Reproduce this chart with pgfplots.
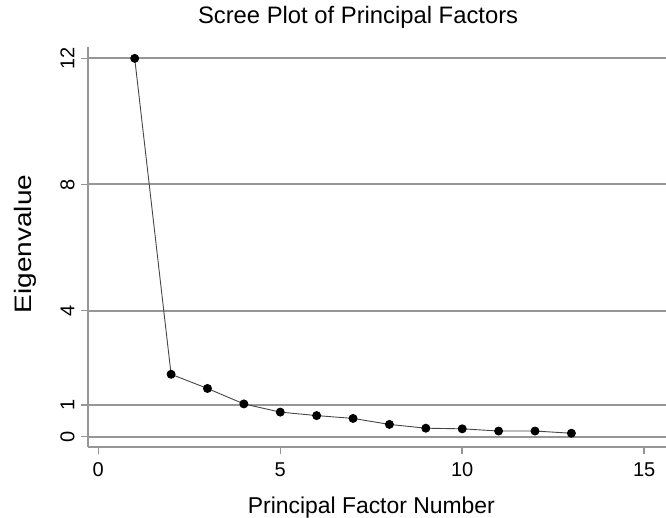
\documentclass[border=0pt]{standalone}
\usepackage{fontspec}
\setmainfont{Liberation Sans}
\usepackage{graphicx}
\usepackage{pgfplots}
\pgfplotsset{compat=1.18}
\definecolor{gridgray}{RGB}{150,150,150}
\definecolor{linegray}{RGB}{70,70,70}

\begin{document}
\begin{tikzpicture}
\begin{axis}[
  width=577.7bp, height=400.6bp, scale only axis,
  xmin=-0.275, xmax=15.6,
  ymin=-0.336, ymax=12.37,
  xtick={0,5,10,15},
  ytick={0,1,4,8,12},
  axis x line*=bottom, axis y line*=left,
  axis line style={gridgray, line width=1.8bp, -},
  tick style={gridgray, line width=1.5bp},
  tick align=outside,
  major tick length=7bp,
  ymajorgrids, grid style={gridgray, line width=2bp},
  /pgf/number format/assume math mode=true,
  ticklabel style={font=\fontsize{20bp}{24bp}\selectfont},
  xticklabel style={anchor=base, yshift=-22bp},
  yticklabel style={rotate=90, anchor=base, yshift=7bp},
  title={Scree Plot of Principal Factors},
  title style={font=\fontsize{23.8bp}{28bp}\selectfont,
    at={(axis description cs:0.467,1)}, anchor=base, yshift=17.7bp},
  xlabel={Principal Factor Number},
  xlabel style={font=\fontsize{22.9bp}{27bp}\selectfont,
    at={(axis description cs:0.49,0)}, anchor=base, yshift=-65.7bp},
  ylabel={\scalebox{1}[0.85]{Eigenvalue}},
  ylabel style={font=\fontsize{28bp}{32bp}\selectfont,
    at={(axis description cs:0,0.5075)}, anchor=base, yshift=57bp},
  clip=false,
]
\addplot[color=linegray, line width=0.9bp, mark=*, mark size=4bp,
  mark options={fill=black, draw=black}] coordinates {
  (1,12.0)(2,1.98)(3,1.53)(4,1.04)(5,0.78)(6,0.67)(7,0.58)
  (8,0.39)(9,0.27)(10,0.25)(11,0.18)(12,0.18)(13,0.11)
};
\end{axis}
\pgfresetboundingbox
\path (current axis.south west) ++(-88.3bp,-70.7bp) rectangle ([yshift=46.7bp]current axis.north east);
\end{tikzpicture}
\end{document}
